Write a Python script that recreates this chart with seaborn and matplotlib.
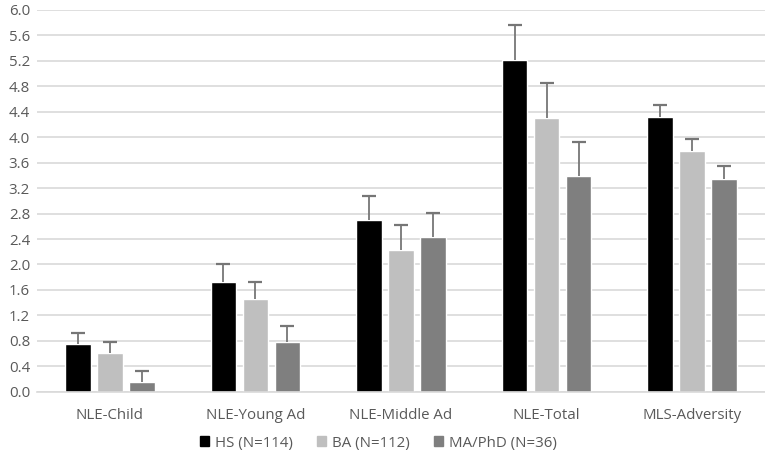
import seaborn as sns
import pandas as pd
import matplotlib.pyplot as plt
from matplotlib.patches import Patch

categories = ["NLE-Child", "NLE-Young Ad", "NLE-Middle Ad", "NLE-Total", "MLS-Adversity"]
groups = ["HS (N=114)", "BA (N=112)", "MA/PhD (N=36)"]
hs_mean = [0.75, 1.73, 2.70, 5.22, 4.32]
ba_mean = [0.61, 1.455, 2.235, 4.31, 3.79]
ma_mean = [0.15, 0.775, 2.43, 3.39, 3.34]
hs_err = [0.17, 0.27, 0.38, 0.54, 0.19]
ba_err = [0.17, 0.265, 0.385, 0.55, 0.19]
ma_err = [0.18, 0.265, 0.38, 0.53, 0.20]
colors = ["#000000", "#bfbfbf", "#7f7f7f"]

rows = []
for g, means, errs in zip(groups, [hs_mean, ba_mean, ma_mean], [hs_err, ba_err, ma_err]):
    for c, m, e in zip(categories, means, errs):
        rows.append({"category": c, "group": g, "mean": m, "err": e})
df = pd.DataFrame(rows)

sns.set_style("white")
plt.rcParams["font.family"] = ["Open Sans", "DejaVu Sans"]

fig = plt.figure(figsize=(7.65, 4.63), dpi=100)
ax = fig.add_axes([37 / 765, 1 - 391.7 / 463, 1 - 37 / 765, (391.7 - 10) / 463])

sns.barplot(data=df, x="category", y="mean", hue="group", palette=colors,
            errorbar=None, width=0.66, gap=0.2, saturation=1, legend=False, ax=ax)

# upper error bars only: stem plus a top cap
for cont, g in zip(ax.containers, groups):
    errs = df[df["group"] == g]["err"].tolist()
    for patch, e in zip(cont.patches, errs):
        h = patch.get_height()
        xc = patch.get_x() + patch.get_width() / 2
        ax.vlines(xc, h, h + e, color="#767676", lw=1.3, zorder=3)
        ax.plot([xc], [h + e], marker="_", ms=10, mew=1.6, color="#767676", zorder=3)

ax.set_ylim(0, 6)
ax.set_xlim(-0.5, 4.5)
ax.set_yticks([i * 0.4 for i in range(16)])
ax.set_yticklabels([f"{i * 0.4:.1f}" for i in range(16)])
ax.grid(axis="y", color="#d9d9d9", lw=1.2, zorder=0)
ax.set_axisbelow(True)
for s in ["top", "right", "left"]:
    ax.spines[s].set_visible(False)
ax.spines["bottom"].set_color("#d9d9d9")
ax.spines["bottom"].set_linewidth(1.2)
ax.tick_params(axis="both", length=0, colors="#595959", labelsize=10.8)
ax.tick_params(axis="x", pad=12)
ax.tick_params(axis="y", pad=5)
ax.set_xlabel("")
ax.set_ylabel("")

handles = [Patch(color=c, label=g) for c, g in zip(colors, groups)]
fig.legend(handles=handles, loc="center", bbox_to_anchor=(0.495, 1 - 443 / 463), ncol=3,
           frameon=False, fontsize=10.8, handlelength=0.6, handleheight=0.6,
           handletextpad=0.4, columnspacing=1.6, labelcolor="#595959")

fig.savefig("out.png", dpi=100)
